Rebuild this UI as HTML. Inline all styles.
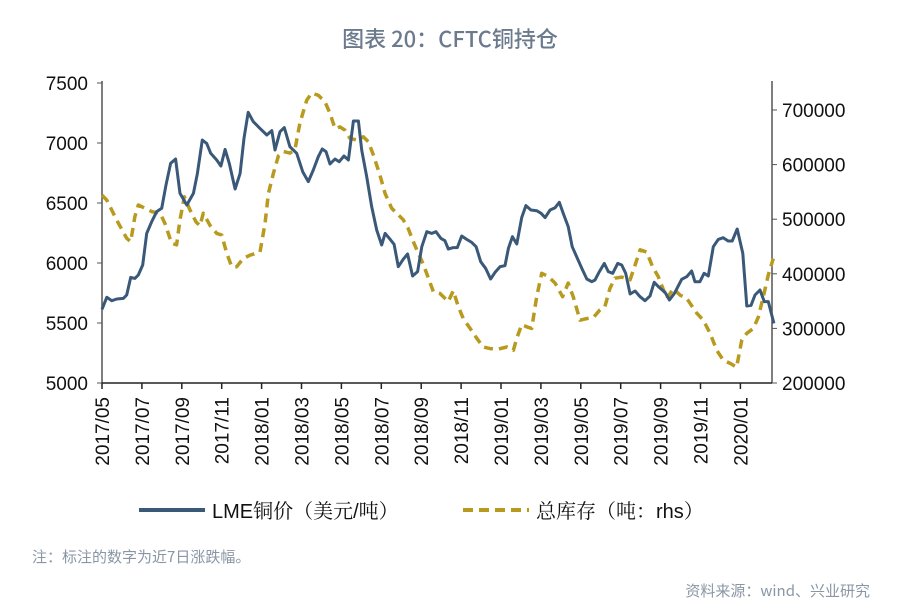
<!DOCTYPE html>
<html><head><meta charset="utf-8"><style>
body{margin:0;background:#fff;width:900px;height:609px;overflow:hidden;font-family:"Liberation Sans","Noto Sans CJK SC",sans-serif}
</style></head><body>
<svg id="chart" width="900" height="609" xmlns="http://www.w3.org/2000/svg" font-family="Liberation Sans, Noto Sans CJK SC, sans-serif">
<text x="450" y="47" text-anchor="middle" font-size="22" font-weight="500" fill="#6b7a8c" font-family="Noto Sans CJK SC, sans-serif">图表 20：CFTC铜持仓</text>
<g id="axes"></g><g id="series"></g>
<g>
<line x1="139" y1="510" x2="205" y2="510" stroke="#3a5878" stroke-width="4"/>
<text x="212" y="518" font-size="20" fill="#111" font-family="Liberation Sans, Noto Serif CJK SC, sans-serif">LME铜价（美元/吨）</text>
<line x1="463" y1="510" x2="529" y2="510" stroke="#b89a1e" stroke-width="4" stroke-dasharray="10,6"/>
<text x="536" y="518" font-size="20" fill="#111" font-family="Liberation Sans, Noto Serif CJK SC, sans-serif">总库存（吨：rhs）</text>
</g>
<text x="32" y="562" font-size="15" fill="#8a96a6" font-family="Noto Sans CJK SC, sans-serif">注：标注的数字为近7日涨跌幅。</text>
<text x="870" y="596" text-anchor="end" font-size="15" fill="#8a96a6" font-family="Noto Sans CJK SC, sans-serif">资料来源：wind、兴业研究</text>
</svg>
<script>
const xTickLabels=["2017/05","2017/07","2017/09","2017/11","2018/01","2018/03","2018/05","2018/07","2018/09","2018/11","2019/01","2019/03","2019/05","2019/07","2019/09","2019/11","2020/01"];
const leftTicks=[5000,5500,6000,6500,7000,7500];
const rightTicks=[200000,300000,400000,500000,600000,700000];
const copperT=[0,0.24,0.49,0.74,1.07,1.24,1.44,1.65,1.82,2.04,2.24,2.49,2.74,2.99,3.21,3.44,3.69,3.91,4.25,4.58,4.78,5.03,5.25,5.45,5.75,5.96,6.17,6.38,6.67,6.92,7.12,7.33,7.58,7.92,8.26,8.51,8.67,8.92,9.14,9.42,9.76,10.06,10.34,10.59,10.84,11.04,11.23,11.43,11.68,11.89,12.13,12.35,12.6,12.85,13.02,13.27,13.52,13.77,14.02,14.19,14.4,14.64,14.85,15.1,15.32,15.57,15.82,16.03,16.28,16.53,16.74,16.98,17.19,17.36,17.61,17.81,18.03,18.28,18.53,18.75,18.98,19.23,19.48,19.7,19.95,20.2,20.37,20.57,20.79,21.04,21.25,21.5,21.79,22.01,22.21,22.46,22.71,22.92,23.12,23.37,23.57,23.79,24.05,24.3,24.55,24.71,24.93,25.18,25.38,25.6,25.85,26.05,26.25,26.47,26.72,26.97,27.22,27.47,27.68,27.93,28.22,28.44,28.69,29.06,29.31,29.56,29.72,29.97,30.18,30.39,30.64,30.89,31.14,31.39,31.59,31.84,32.12,32.32,32.53,32.73,32.98,33.2,33.4,33.68];
const copperV=[5614,5714,5686,5700,5705,5733,5880,5872,5900,5983,6247,6344,6428,6456,6650,6830,6867,6580,6483,6580,6747,7025,6997,6914,6858,6808,6947,6830,6617,6747,7039,7256,7178,7122,7067,7103,6942,7094,7128,6969,6914,6761,6678,6775,6886,6950,6928,6825,6867,6844,6892,6858,7183,7183,6942,6719,6469,6275,6150,6247,6206,6156,5969,6031,6075,5892,5928,6136,6261,6247,6261,6206,6186,6117,6128,6128,6225,6197,6172,6136,6011,5956,5867,5922,5969,5978,6122,6219,6158,6378,6478,6442,6436,6414,6378,6442,6461,6506,6414,6303,6136,6053,5956,5867,5844,5858,5928,5997,5928,5914,5997,5983,5914,5742,5767,5719,5686,5725,5839,5797,5756,5692,5747,5864,5886,5933,5844,5844,5914,5892,6136,6197,6211,6183,6183,6283,6081,5642,5647,5733,5775,5678,5678,5497];
const stockT=[0,0.24,0.74,1.24,1.44,1.65,1.82,2.16,2.49,2.91,3.16,3.49,3.74,3.91,4.13,4.41,4.71,4.91,5.08,5.41,5.75,6.0,6.25,6.5,6.75,7.08,7.42,7.92,8.17,8.34,8.59,8.84,9.09,9.42,9.67,9.92,10.26,10.51,10.84,11.18,11.43,11.68,11.93,12.18,12.43,12.77,13.1,13.35,13.6,13.93,14.19,14.52,14.77,15.1,15.35,15.57,15.85,16.1,16.36,16.61,16.94,17.36,17.61,17.86,18.11,18.45,18.78,19.11,19.45,19.86,20.29,20.62,20.79,21.04,21.29,21.54,21.79,22.04,22.37,22.71,23.09,23.37,23.62,23.96,24.3,24.63,24.96,25.21,25.46,25.71,26.05,26.47,26.72,26.97,27.3,27.6,27.88,28.31,28.64,28.97,29.31,29.81,30.14,30.48,30.81,31.14,31.48,31.81,32.07,32.32,32.65,32.9,33.15,33.4,33.65];
const stockV=[544,535,498,465,459,505,526,520,514,511,492,456,453,499,541,517,495,488,511,489,474,471,438,413,413,428,434,440,492,547,584,616,624,621,627,676,718,731,727,715,694,666,669,663,648,645,651,642,618,581,547,520,511,499,483,462,438,418,392,367,364,349,369,340,318,300,282,266,263,262,266,260,282,307,303,300,358,401,395,383,358,383,358,315,318,320,334,340,373,392,394,389,416,444,440,413,395,355,373,361,355,328,315,291,260,242,236,229,279,291,300,321,358,398,428].map(v=>v*1000);

const NS="http://www.w3.org/2000/svg";
const X0=102,X1=772,Y0=383,YT=83;
const xs=m=>X0+m*19.95;
const yl=v=>Y0-(v-5000)/2500*(Y0-YT);
const yr=v=>Y0-(v-200000)/500000*273;
function mk(tag,attrs,parent,text){const e=document.createElementNS(NS,tag);for(const k in attrs)e.setAttribute(k,attrs[k]);if(text!==undefined)e.textContent=text;parent.appendChild(e);return e;}
const ax=document.getElementById('axes');
let e;
e=mk('line',{x1:X0,y1:YT-2,x2:X0,y2:Y0,stroke:'#555','stroke-width':1.5},ax);


e=mk('line',{x1:X1,y1:YT-2,x2:X1,y2:Y0,stroke:'#555','stroke-width':1.5},ax);


e=mk('line',{x1:X0,y1:Y0,x2:X1,y2:Y0,stroke:'#222','stroke-width':1.5},ax);


leftTicks.forEach(v=>{const y=yl(v);
 mk('line',{x1:X0-5,y1:y,x2:X0,y2:y,stroke:'#555'},ax);
 e=mk('text',{x:X0-14,y:y+7,'text-anchor':'end','font-size':19,fill:'#111'},ax,String(v));
 
 });
rightTicks.forEach(v=>{const y=yr(v);
 mk('line',{x1:X1,y1:y,x2:X1+5,y2:y,stroke:'#555'},ax);
 e=mk('text',{x:X1+10,y:y+7,'font-size':19,fill:'#111'},ax,String(v));
 
 });
xTickLabels.forEach((s,i)=>{const x=xs(i*2);
 mk('line',{x1:x,y1:Y0,x2:x,y2:Y0+6,stroke:'#222','stroke-width':1.5},ax);
 e=mk('text',{x:0,y:0,'text-anchor':'end','font-size':19,fill:'#111',transform:`translate(${x+7},${Y0+14}) rotate(-90)`},ax,s);
 
 });
const sg=document.getElementById('series');
e=mk('polyline',{points:stockT.map((t,i)=>xs(t).toFixed(1)+','+yr(stockV[i]).toFixed(1)).join(' '),fill:'none',stroke:'#b89a1e','stroke-width':3.5,'stroke-dasharray':'9,6','stroke-linejoin':'round'},sg);


e=mk('polyline',{points:copperT.map((t,i)=>xs(t).toFixed(1)+','+yl(copperV[i]).toFixed(1)).join(' '),fill:'none',stroke:'#3a5878','stroke-width':3,'stroke-linejoin':'round'},sg);


</script>
</body></html>
